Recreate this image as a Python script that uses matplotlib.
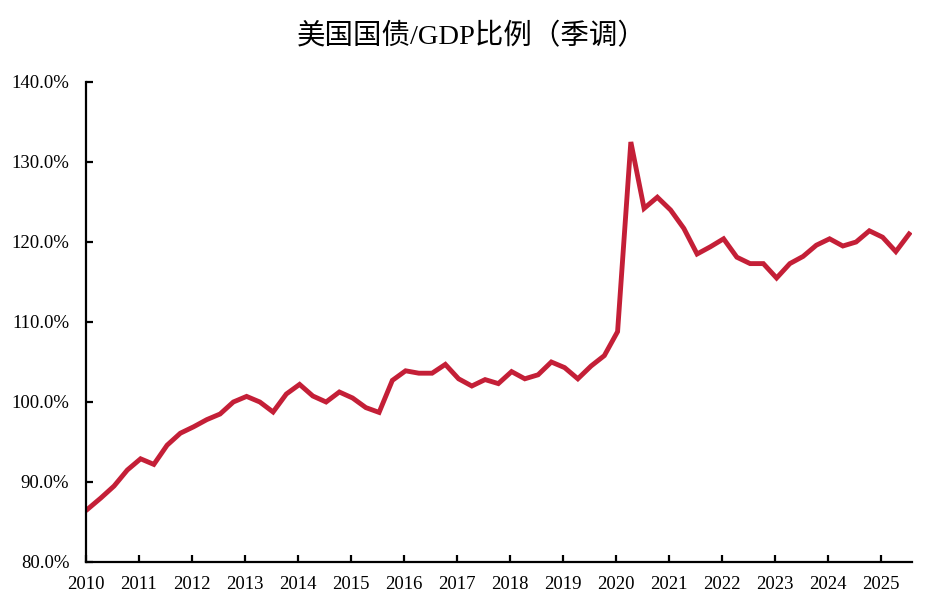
import matplotlib.pyplot as plt
import numpy as np
from matplotlib.ticker import FuncFormatter

# 美国国债/GDP（季调），2010Q1 - 2025Q3
debt_gdp = [
    86.6, 88.0, 89.5, 91.5,      # 2010
    92.9, 92.2, 94.6, 96.1,      # 2011
    96.9, 97.8, 98.5, 100.0,     # 2012
    100.7, 100.0, 98.75, 101.0,  # 2013
    102.2, 100.75, 100.0, 101.25,  # 2014
    100.5, 99.3, 98.7, 102.7,    # 2015
    103.9, 103.6, 103.6, 104.7,  # 2016
    102.9, 102.0, 102.8, 102.3,  # 2017
    103.8, 102.9, 103.4, 105.0,  # 2018
    104.3, 102.9, 104.5, 105.8,  # 2019
    108.8, 132.5, 124.2, 125.6,  # 2020
    124.0, 121.7, 118.5, 119.4,  # 2021
    120.4, 118.1, 117.3, 117.3,  # 2022
    115.5, 117.3, 118.2, 119.6,  # 2023
    120.4, 119.5, 120.0, 121.4,  # 2024
    120.6, 118.8, 121.0,         # 2025
]
start_year = 2010
years = list(range(2010, 2026))
yticks = [80, 90, 100, 110, 120, 130, 140]

# 季度位置（每季度 0.25 年，略微右移与原图一致）
x = start_year + 0.03 + np.arange(len(debt_gdp)) / 4

fig = plt.figure(figsize=(9.35, 6.08), dpi=100)
ax = fig.add_axes([86 / 935, 46 / 608, 826 / 935, 480 / 608])

ax.plot(x, debt_gdp, color="#C41F37", linewidth=3.5, solid_joinstyle="miter")

ax.set_xlim(2010, 2025.585)
ax.set_ylim(80, 140)
ax.set_xticks(years)
ax.set_xticklabels([str(y) for y in years])
ax.set_yticks(yticks)
ax.yaxis.set_major_formatter(FuncFormatter(lambda v, p: f"{v:.1f}%"))

for s in ["top", "right"]:
    ax.spines[s].set_visible(False)
for s in ["left", "bottom"]:
    ax.spines[s].set_linewidth(1.6)
    ax.spines[s].set_color("black")

ax.tick_params(direction="in", length=5, width=1.6, colors="black")
for lab in ax.get_xticklabels() + ax.get_yticklabels():
    lab.set_fontfamily("Liberation Serif")
    lab.set_fontsize(13.5)
ax.tick_params(axis="x", pad=10)
ax.tick_params(axis="y", pad=12)

fig.text(0.505, 1 - 37 / 608, "美国国债/GDP比例（季调）",
         ha="center", va="center", fontsize=20.5,
         family=["Liberation Serif", "Noto Sans CJK SC"])

fig.savefig("out.png", dpi=100)
